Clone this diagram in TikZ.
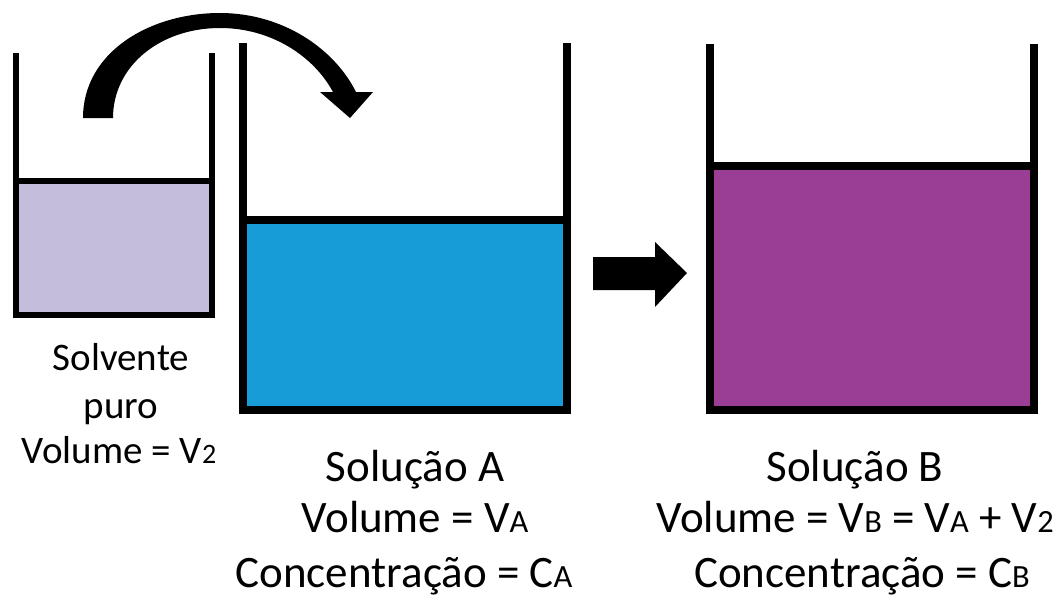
\documentclass[tikz,border=0pt]{standalone}
\usepackage{fontspec}
\setmainfont{Carlito}
% small letter set on the baseline, used as a subscript label
\newcommand\sbs[1]{\scalebox{0.72}{#1}}
\tikzset{
  wall/.style={line width=#1, draw=black, line join=miter},
  bigtext/.style={anchor=base, inner sep=0pt, font=\fontsize{45}{54}\selectfont},
  smalltext/.style={anchor=base, inner sep=0pt, font=\fontsize{39}{46}\selectfont},
}
\definecolor{solvente}{HTML}{C5BDDC}
\definecolor{solA}{HTML}{189CD8}
\definecolor{solB}{HTML}{9A3D94}
\begin{document}
\begin{tikzpicture}[x=1pt,y=-1pt]
\useasboundingbox[fill=white] (0,0) rectangle (1061,597);

% pure solvent beaker
\fill[solvente] (16,181) rectangle (212,315);
\draw[wall=5.5pt] (16,53) -- (16,315) -- (212,315) -- (212,53);
\draw[line width=5.5pt] (16,181) -- (212,181);

% beaker with solution A
\fill[solA] (243,220) rectangle (567,410);
\draw[wall=8pt] (243,43) -- (243,410) -- (567,410) -- (567,43);
\draw[line width=8pt] (243,220) -- (567,220);

% beaker with solution B
\fill[solB] (710,166) rectangle (1034,410);
\draw[wall=8pt] (710,44) -- (710,410) -- (1034,410) -- (1034,44);
\draw[line width=8pt] (710,166) -- (1034,166);

% curved block arrow: pouring the solvent into A
\fill[black] (83,118) .. controls (83,52) and (150,13) .. (220,13)
  .. controls (282,13) and (334,48) .. (356,92)
  -- (373,92) -- (350,118) -- (320,92) -- (333,92)
  .. controls (313,55) and (270,28) .. (220,28)
  .. controls (160,28) and (113,66) .. (113,118) -- cycle;

% straight block arrow: A becomes B
\fill[black] (593,257) -- (655,257) -- (655,242) -- (687,273)
  -- (655,307) -- (655,290) -- (593,290) -- cycle;

% labels
\node[smalltext] (s1) at (121,370) {Solvente};
\node[smalltext] (s2) at (121,418) {puro};
\node[smalltext] (s3) at (119,463) {Volume\ = V\sbs{2}};

\node[bigtext] (a1) at (415,481) {Solução A};
\node[bigtext] (a2) at (415,532) {Volume = V\sbs{A}};
\node[bigtext] (a3) at (404,587) {Concentração = C\sbs{A}};

\node[bigtext] (b1) at (855,481) {Solução B};
\node[bigtext] (b2) at (855,532) {Volume = V\sbs{B} = V\sbs{A} + V\sbs{2}};
\node[bigtext] (b3) at (862,587) {Concentração = C\sbs{B}};
\end{tikzpicture}
\end{document}
